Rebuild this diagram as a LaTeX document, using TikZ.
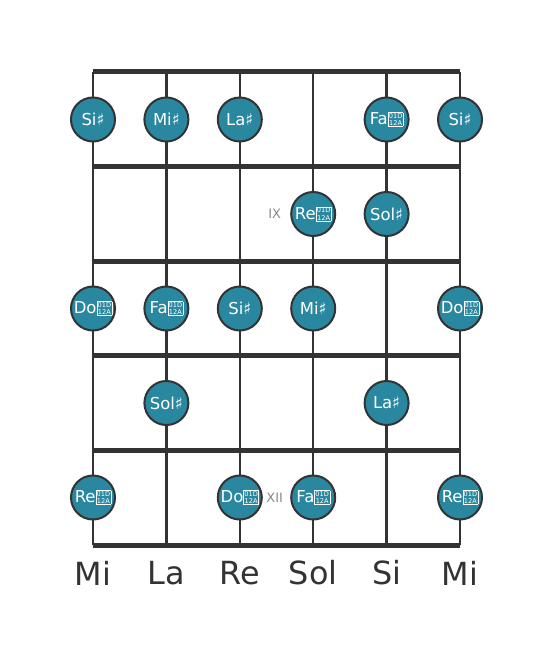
\documentclass[tikz,border=0pt]{standalone}
\usepackage{fontspec}
\usepackage{xcolor}
\setmainfont{DejaVu Sans}
\definecolor{boardgray}{HTML}{333333}
\definecolor{noteteal}{HTML}{2A87A0}
\definecolor{fretlabel}{HTML}{888888}
\usetikzlibrary{positioning}
% the double sharp as the picture prints it
\newcommand{\dsharp}{\begingroup\fontsize{6.6}{6.6}\selectfont\setlength{\fboxsep}{0.6pt}\setlength{\fboxrule}{0.5pt}\raisebox{-0.8pt}{\fbox{\shortstack[c]{01D\\[-0.6pt]12A}}}\endgroup}
\newcommand{\sh}{♯}

\begin{document}
\begin{tikzpicture}[
    x=1bp, y=-1bp,
    string/.style={draw=boardgray, line width=2.5bp},
    fret/.style={draw=boardgray, line width=5bp},
    note/.style={circle, draw=boardgray, line width=2bp, fill=noteteal, minimum size=44bp, inner sep=0pt, text=white, font=\fontsize{16.5}{16.5}\selectfont},
    fretnum/.style={text=fretlabel, font=\fontsize{13}{13}\selectfont, inner sep=0pt},
    stringname/.style={text=boardgray, font=\fontsize{32}{32}\selectfont},
]
\useasboundingbox (0,0) rectangle (553,656);

% strings
\foreach \x in {93,166.4,239.8,313.2,386.6,460}
    \draw[string] (\x,72) -- (\x,545);
% frets
\foreach \y in {72,166.6,261.2,355.8,450.4,545}
    \draw[fret] (93,\y) -- (460,\y);

% string names
\node[stringname] (n1) at (93,573) {Mi};
\node[stringname] (n2) at (166.4,573) {La};
\node[stringname] (n3) at (239.8,573) {Re};
\node[stringname] (n4) at (313.2,573) {Sol};
\node[stringname] (n5) at (386.6,573) {Si};
\node[stringname] (n6) at (460,573) {Mi};

% first row
\node[note] (a1) at (93,119.5) {Si\sh};
\node[note] (a2) at (166.4,119.5) {Mi\sh};
\node[note] (a3) at (239.8,119.5) {La\sh};
\node[note] (a5) at (386.6,119.5) {Fa\dsharp};
\node[note] (a6) at (460,119.5) {Si\sh};

% second row
\node[note] (b4) at (313.2,214) {Re\dsharp};
\node[note] (b5) at (386.6,214) {Sol\sh};
\node[fretnum, left=9bp of b4] (ix) {IX};

% third row
\node[note] (c1) at (93,308.5) {Do\dsharp};
\node[note] (c2) at (166.4,308.5) {Fa\dsharp};
\node[note] (c3) at (239.8,308.5) {Si\sh};
\node[note] (c4) at (313.2,308.5) {Mi\sh};
\node[note] (c6) at (460,308.5) {Do\dsharp};

% fourth row
\node[note] (d2) at (166.4,403) {Sol\sh};
\node[note] (d5) at (386.6,403) {La\sh};

% fifth row
\node[note] (e1) at (93,497.5) {Re\dsharp};
\node[note] (e3) at (239.8,497.5) {Do\dsharp};
\node[note] (e4) at (313.2,497.5) {Fa\dsharp};
\node[note] (e6) at (460,497.5) {Re\dsharp};
\node[fretnum, left=7bp of e4] (xii) {XII};
\end{tikzpicture}
\end{document}
